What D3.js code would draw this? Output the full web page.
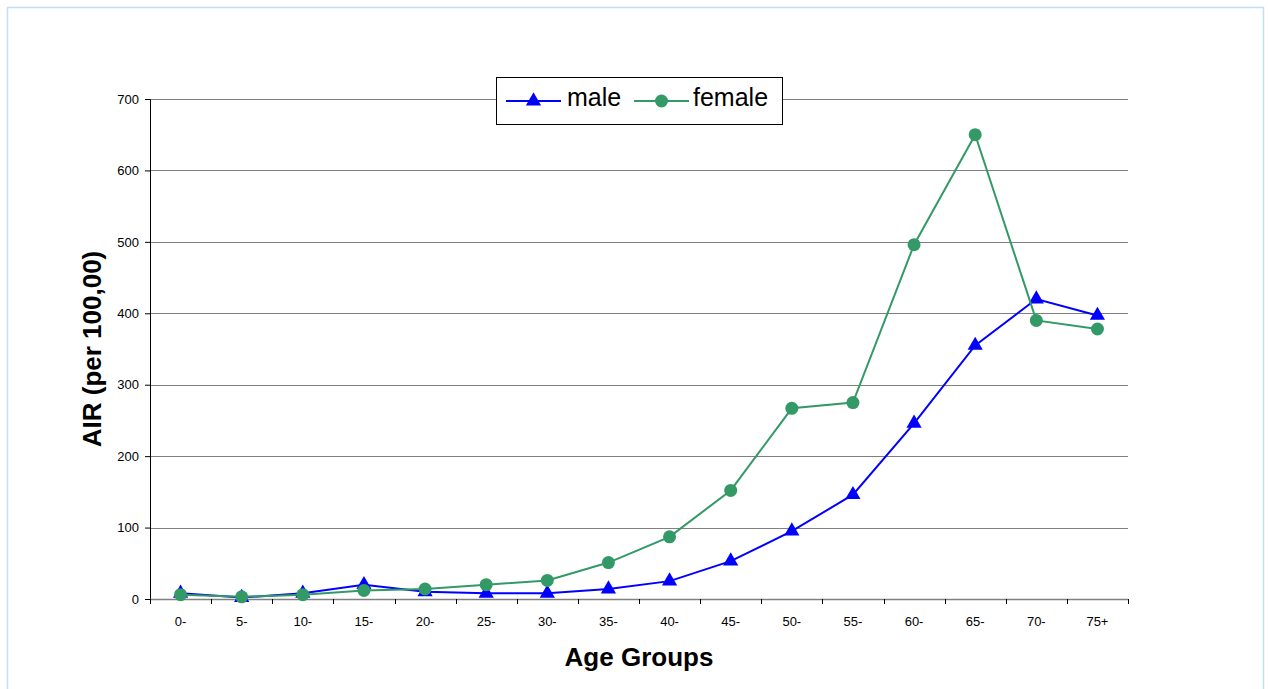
<!DOCTYPE html>
<html>
<head>
<meta charset="utf-8">
<script src="https://cdn.jsdelivr.net/npm/d3@7"></script>
<style>
  html, body { margin: 0; padding: 0; background: #fff; }
  svg { display: block; font-family: "Liberation Sans", Arial, sans-serif; }
</style>
</head>
<body>
<svg id="chart" width="1268" height="689"></svg>
<script>
// Age-specific incidence rates by sex
const ageGroups = ["0-", "5-", "10-", "15-", "20-", "25-", "30-", "35-", "40-", "45-", "50-", "55-", "60-", "65-", "70-", "75+"];
const maleAIR   = [8, 2, 8, 20, 10, 8, 8, 14, 25, 53, 95, 146, 246, 355, 420, 397];
const femaleAIR = [6, 3, 6, 12, 14, 20, 26, 51, 87, 152, 267, 275, 496, 650, 390, 378];
const yTicks = [0, 100, 200, 300, 400, 500, 600, 700];

const svg = d3.select("#chart");
const W = 1268, H = 689;
const m = { left: 150, right: 140, top: 99, bottom: 90 };
const plotW = W - m.left - m.right;   // 978
const plotH = H - m.top - m.bottom;   // 500

// outer frame
svg.append("rect")
  .attr("x", 7.5).attr("y", 7.5)
  .attr("width", 1256).attr("height", 690)
  .attr("fill", "none").attr("stroke", "#bfe0f4").attr("stroke-width", 1.5);

const g = svg.append("g").attr("transform", `translate(${m.left},${m.top})`);

const x = d3.scaleBand().domain(ageGroups).range([0, plotW]).paddingInner(0).paddingOuter(0);
const y = d3.scaleLinear().domain([0, 700]).range([plotH, 0]);
const cx = d => x(d) + x.bandwidth() / 2;

// horizontal gridlines
g.append("g").selectAll("line")
  .data(yTicks.filter(t => t > 0))
  .join("line")
  .attr("x1", 0).attr("x2", plotW)
  .attr("y1", d => Math.round(y(d)) + 0.5).attr("y2", d => Math.round(y(d)) + 0.5)
  .attr("stroke", "#808080").attr("stroke-width", 1);

// y axis
const yAxis = g.append("g")
  .call(d3.axisLeft(y).tickValues(yTicks).tickSize(5).tickPadding(6).tickFormat(d3.format("d")));
yAxis.select(".domain").attr("stroke", "#000");
yAxis.selectAll(".tick line").attr("stroke", "#000");
yAxis.selectAll("text").attr("font-size", 13).attr("fill", "#000")
  .attr("font-family", "Liberation Sans, Arial, sans-serif");

// x axis: ticks at band boundaries, labels at centres
const xAxisG = g.append("g").attr("transform", `translate(0,${plotH})`);
xAxisG.append("line")
  .attr("x1", 0).attr("x2", plotW).attr("y1", 0.5).attr("y2", 0.5)
  .attr("stroke", "#808080").attr("stroke-width", 1.5);
const boundaries = ageGroups.map(d => x(d)).concat([plotW]);
xAxisG.selectAll("line.tk").data(boundaries).join("line")
  .attr("class", "tk")
  .attr("x1", d => Math.round(d) + 0.5).attr("x2", d => Math.round(d) + 0.5)
  .attr("y1", 0).attr("y2", 5)
  .attr("stroke", "#000");
xAxisG.selectAll("text").data(ageGroups).join("text")
  .attr("x", d => cx(d)).attr("y", 27)
  .attr("text-anchor", "middle")
  .attr("font-size", 13).attr("fill", "#000")
  .text(d => d);

// axis titles
svg.append("text")
  .attr("transform", `translate(101,${m.top + plotH / 2}) rotate(-90)`)
  .attr("text-anchor", "middle")
  .attr("font-size", 26).attr("font-weight", "bold")
  .text("AIR (per 100,00)");
svg.append("text")
  .attr("x", m.left + plotW / 2).attr("y", 666)
  .attr("text-anchor", "middle")
  .attr("font-size", 26).attr("font-weight", "bold")
  .text("Age Groups");

const line = d3.line().x((d, i) => cx(ageGroups[i])).y(d => y(d));
const triangle = d3.symbol().type(d3.symbolTriangle).size(100);

// male series
g.append("path").datum(maleAIR)
  .attr("d", line).attr("fill", "none")
  .attr("stroke", "#0000ff").attr("stroke-width", 2);
g.selectAll("path.m").data(maleAIR).join("path")
  .attr("class", "m")
  .attr("transform", (d, i) => `translate(${cx(ageGroups[i])},${y(d)})`)
  .attr("d", triangle).attr("fill", "#0000ff");

// female series (drawn on top)
g.append("path").datum(femaleAIR)
  .attr("d", line).attr("fill", "none")
  .attr("stroke", "#339966").attr("stroke-width", 2);
g.selectAll("circle.f").data(femaleAIR).join("circle")
  .attr("class", "f")
  .attr("cx", (d, i) => cx(ageGroups[i])).attr("cy", d => y(d))
  .attr("r", 6.5).attr("fill", "#339966");

// legend
const lg = svg.append("g").attr("transform", "translate(496,77)");
lg.append("rect").attr("x", 0.5).attr("y", 0.5).attr("width", 286).attr("height", 47)
  .attr("fill", "#fff").attr("stroke", "#000").attr("stroke-width", 1);
const ly = 24;
lg.append("line").attr("x1", 10).attr("x2", 65).attr("y1", ly).attr("y2", ly)
  .attr("stroke", "#0000ff").attr("stroke-width", 2);
lg.append("path").attr("transform", `translate(37.5,${ly})`).attr("d", triangle).attr("fill", "#0000ff");
lg.append("text").attr("x", 71).attr("y", 29).attr("font-size", 25).text("male");
lg.append("line").attr("x1", 138).attr("x2", 193).attr("y1", ly).attr("y2", ly)
  .attr("stroke", "#339966").attr("stroke-width", 2);
lg.append("circle").attr("cx", 165.5).attr("cy", ly).attr("r", 6.5).attr("fill", "#339966");
lg.append("text").attr("x", 197).attr("y", 29).attr("font-size", 25).text("female");
</script>
</body>
</html>
